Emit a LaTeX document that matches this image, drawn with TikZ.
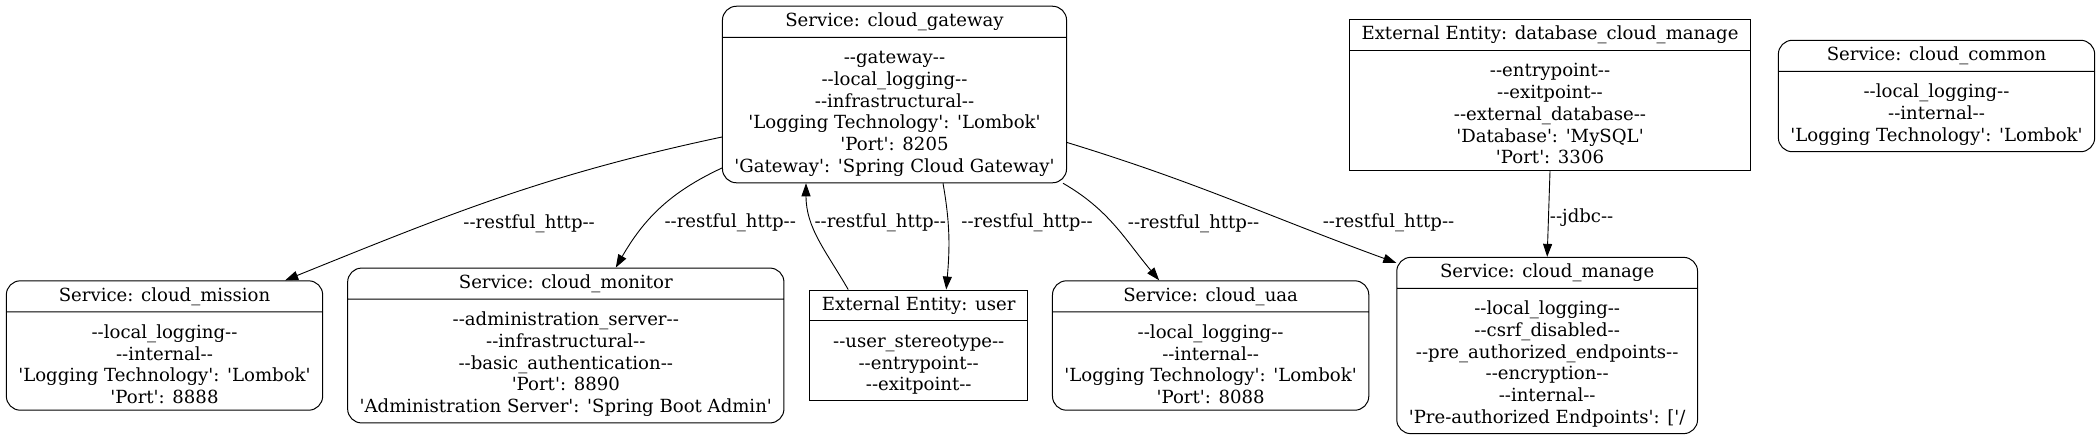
\documentclass[tikz,border=0pt]{standalone}
\usepackage{fontspec}
\setmainfont{DejaVu Serif}[Ligatures=TeXOff]
\usetikzlibrary{positioning, shapes.multipart, arrows.meta}
\newcommand{\partgap}{\rule{0pt}{20pt}}

\begin{document}
\begin{tikzpicture}[x=1pt, y=1pt, font=\fontsize{18.1}{21.7}\selectfont]
\tikzset{service/.style={rectangle split, rectangle split parts=2, draw, line width=1pt, rounded corners=14pt, align=center, inner xsep=12pt, inner ysep=6pt}}
\tikzset{entity/.style={service, sharp corners}}
\tikzset{flow/.style={line width=0.9pt, -{Triangle[length=13pt, width=9pt]}}}

\useasboundingbox (0,0) rectangle (2100,-440);

  \node [service] (gateway) at (894.5,-94.5) {Service: cloud\_gateway \nodepart{two}\partgap --gateway--\\--local\_logging--\\--infrastructural--\\'Logging Technology': 'Lombok'\\'Port': 8205\\'Gateway': 'Spring Cloud Gateway'};
  \node [entity] (dbmanage) at (1550,-95) {External Entity: database\_cloud\_manage \nodepart{two}\partgap --entrypoint--\\--exitpoint--\\--external\_database--\\'Database': 'MySQL'\\'Port': 3306};
  \node [service] (common) at (1936.5,-96) {Service: cloud\_common \nodepart{two}\partgap --local\_logging--\\--internal--\\'Logging Technology': 'Lombok'};

  \node [service] (mission) at (164.5,-345.5) {Service: cloud\_mission \nodepart{two}\partgap --local\_logging--\\--internal--\\'Logging Technology': 'Lombok'\\'Port': 8888};
  \node [service, right=24pt of mission] (monitor) {Service: cloud\_monitor \nodepart{two}\partgap --administration\_server--\\--infrastructural--\\--basic\_authentication--\\'Port': 8890\\'Administration Server': 'Spring Boot Admin'};
  \node [entity, right=25pt of monitor] (user) {External Entity: user \nodepart{two}\partgap --user\_stereotype--\\--entrypoint--\\--exitpoint--};
  \node [service, right=24pt of user] (uaa) {Service: cloud\_uaa \nodepart{two}\partgap --local\_logging--\\--internal--\\'Logging Technology': 'Lombok'\\'Port': 8088};
  \node [service, right=27pt of uaa] (manage) {Service: cloud\_manage \nodepart{two}\partgap --local\_logging--\\--csrf\_disabled--\\--pre\_authorized\_endpoints--\\--encryption--\\--internal--\\'Pre-authorized Endpoints': ['/};

\path ([yshift=-42.5pt]gateway.west) edge[flow, out=192, in=22] node[xshift=29pt, yshift=-26pt]{--restful\_http--} ([xshift=-38pt]mission.north east);
\path ([yshift=-73.5pt]gateway.west) edge[flow, out=205, in=60] node[xshift=70pt, yshift=-14pt]{--restful\_http--} ([xshift=50pt]monitor.north);
\path ([xshift=-70.5pt]user.north) edge[flow, out=120, in=-90] node[xshift=61.5pt, yshift=15.8pt]{--restful\_http--} ([xshift=-88.5pt]gateway.south);
\path ([xshift=48.5pt]gateway.south) edge[flow, out=-80, in=85] node[xshift=78.4pt, yshift=13.4pt]{--restful\_http--} ([xshift=27.5pt]user.north);
\path ([xshift=-4pt]gateway.south east) edge[flow, out=-30, in=130] node[xshift=78pt, yshift=2.7pt]{--restful\_http--} ([xshift=-51.5pt]uaa.north);
\path ([yshift=-48pt]gateway.east) edge[flow, out=-17, in=160] node[xshift=156pt, yshift=-22.3pt]{--restful\_http--} ([yshift=-6pt]manage.north west);
\path (dbmanage.south) edge[flow] node[xshift=33pt, yshift=-4pt]{--jdbc--} (manage.north);

\end{tikzpicture}
\end{document}
